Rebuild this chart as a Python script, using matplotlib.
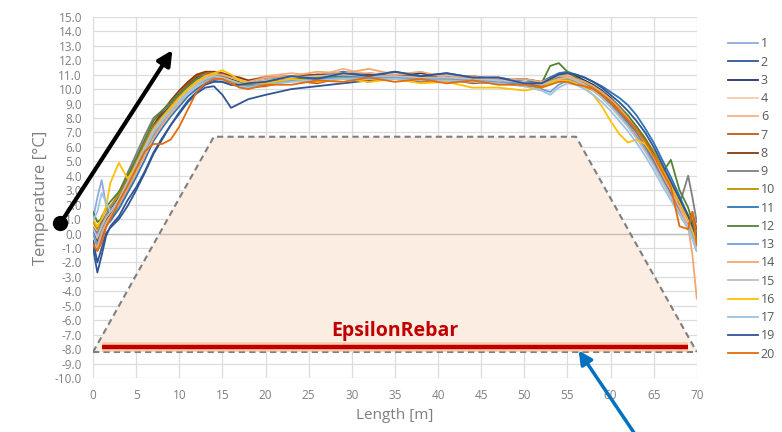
import matplotlib.pyplot as plt

plt.rcParams['font.family'] = ['Open Sans', 'DejaVu Sans']

# positions along the rebar [m]
length = [0, 0.5, 1, 1.5, 2, 3, 4, 5, 6, 7, 8, 9, 10, 11, 12, 13, 14, 15, 16, 17, 18,
          20, 23, 26, 29, 32, 35, 38, 41, 44, 47, 50, 52, 53, 54, 55, 56, 57, 58, 59,
          60, 61, 62, 63, 64, 65, 66, 67, 68, 69, 69.5, 70]

t1 = [1.0, 2.5, 3.7, 2.0, 0.8, 1.8, 3.0, 4.2, 5.6, 6.9, 7.8, 8.5, 9.2, 9.8, 10.3, 10.6, 10.8, 10.6, 10.3, 10.2, 10.3,
      10.3, 10.7, 10.5, 11.0, 10.7, 11.0, 10.6, 10.9, 10.5, 10.6, 10.2, 10.2, 10.5, 10.6, 10.7, 10.5, 10.3, 10.0, 9.5,
      9.0, 8.4, 7.6, 6.8, 5.9, 4.9, 3.7, 2.6, 1.5, 0.5, 0.2, -0.5]
t2 = [-1.0, -2.7, -1.5, -0.2, 0.5, 1.2, 2.3, 3.2, 4.3, 5.6, 6.6, 7.5, 8.3, 9.1, 9.7, 10.1, 10.2, 9.6, 8.7, 9.0, 9.3,
      9.6, 10.0, 10.2, 10.4, 10.6, 10.7, 10.7, 10.6, 10.5, 10.4, 10.3, 10.2, 10.4, 10.6, 10.7, 10.5, 10.3, 10.0, 9.6,
      9.1, 8.5, 7.8, 7.0, 6.1, 5.1, 3.9, 2.8, 1.6, 0.5, -0.3, -1.2]
t3 = [0.3, 0.0, 0.8, 1.2, 1.6, 2.5, 3.8, 5.0, 6.2, 7.4, 8.2, 8.9, 9.6, 10.3, 10.8, 11.0, 11.1, 11.0, 10.7, 10.5, 10.4,
      10.7, 10.6, 11.0, 10.8, 11.1, 10.9, 11.1, 10.8, 10.9, 10.6, 10.7, 10.5, 10.8, 11.0, 11.1, 10.9, 10.6, 10.3, 9.9,
      9.4, 8.8, 8.1, 7.4, 6.5, 5.5, 4.3, 3.2, 2.1, 1.0, 0.4, -0.4]
t4 = [0.6, 0.2, 0.6, 1.1, 1.4, 2.2, 3.4, 4.5, 5.7, 7.0, 7.8, 8.5, 9.2, 9.8, 10.4, 10.9, 11.1, 11.0, 10.8, 10.6, 10.5,
      10.7, 10.9, 11.0, 11.2, 11.1, 11.0, 10.9, 10.8, 10.8, 10.6, 10.5, 10.4, 10.7, 10.9, 10.9, 10.7, 10.4, 10.1, 9.7,
      9.2, 8.7, 8.0, 7.2, 6.3, 5.3, 4.1, 3.0, 2.0, 0.9, 0.1, -0.6]
t6 = [0.2, -0.5, 0.3, 1.0, 1.5, 2.3, 3.5, 4.6, 5.8, 7.1, 7.9, 8.7, 9.4, 10.0, 10.6, 11.0, 11.2, 11.1, 10.9, 10.7, 10.6,
      10.9, 11.1, 10.9, 11.4, 11.0, 11.2, 10.8, 11.0, 10.7, 10.8, 10.5, 10.5, 10.8, 10.9, 11.0, 10.7, 10.4, 10.0, 9.5,
      8.9, 8.3, 7.6, 6.9, 6.1, 5.2, 4.1, 3.1, 2.0, 0.9, 0.2, -0.6]
t7 = [-0.8, -1.2, -0.5, 0.5, 1.0, 2.0, 3.1, 4.3, 5.6, 6.9, 7.9, 8.8, 9.7, 10.4, 10.9, 11.1, 11.0, 10.8, 10.4, 10.2, 10.1,
      10.2, 10.6, 10.4, 10.8, 10.5, 10.8, 10.5, 10.7, 10.4, 10.5, 10.2, 10.2, 10.4, 10.6, 10.6, 10.4, 10.2, 9.9, 9.5,
      9.1, 8.5, 7.9, 7.1, 6.3, 5.3, 4.2, 3.0, 1.4, 0.5, 1.5, 0.3]
t8 = [0.0, -0.6, 0.2, 0.9, 1.4, 2.4, 3.7, 4.9, 6.2, 7.5, 8.4, 9.2, 9.9, 10.5, 11.0, 11.2, 11.2, 11.1, 10.9, 10.8, 10.6,
      10.8, 10.9, 11.0, 11.0, 11.0, 10.9, 10.9, 10.8, 10.7, 10.6, 10.5, 10.4, 10.6, 10.8, 10.8, 10.6, 10.4, 10.1, 9.7,
      9.2, 8.6, 7.9, 7.2, 6.4, 5.5, 4.4, 3.3, 2.2, 1.0, 0.3, -0.5]
t9 = [0.4, 0.0, 0.7, 1.3, 1.8, 2.8, 4.2, 5.5, 6.8, 8.0, 8.5, 9.0, 9.6, 10.2, 10.7, 11.0, 11.0, 10.9, 10.6, 10.4, 10.3,
      10.5, 10.7, 10.8, 10.8, 10.8, 10.8, 10.7, 10.7, 10.6, 10.5, 10.4, 10.3, 10.6, 10.8, 10.8, 10.6, 10.4, 10.0, 9.5,
      9.0, 8.4, 7.7, 7.0, 6.1, 5.1, 3.9, 2.6, 2.0, 4.0, 2.5, 0.8]
t10 = [0.8, 0.3, 1.2, 1.6, 1.9, 2.7, 3.9, 5.0, 6.2, 7.4, 8.1, 8.8, 9.4, 10.0, 10.5, 10.8, 10.9, 10.7, 10.5, 10.3, 10.3,
       10.5, 10.6, 10.7, 10.8, 10.8, 10.8, 10.7, 10.7, 10.6, 10.5, 10.4, 10.3, 10.6, 10.7, 10.7, 10.6, 10.4, 10.1, 9.7,
       9.3, 8.8, 8.1, 7.4, 6.6, 5.7, 4.6, 3.4, 2.4, 1.3, 0.6, -0.2]
t11 = [0.2, -1.0, -0.2, 0.5, 0.9, 1.7, 2.8, 3.9, 5.1, 6.4, 7.3, 8.1, 8.8, 9.5, 10.0, 10.4, 10.6, 10.5, 10.3, 10.3, 10.4,
       10.6, 10.9, 10.8, 11.2, 10.9, 11.2, 10.9, 11.1, 10.8, 10.8, 10.5, 10.5, 10.8, 11.1, 11.2, 11.0, 10.8, 10.5, 10.2,
       9.8, 9.4, 8.9, 8.2, 7.3, 6.3, 5.1, 3.9, 2.6, 1.2, 0.4, -0.4]
t12 = [1.5, 0.8, 1.0, 1.8, 2.2, 2.9, 4.0, 5.2, 6.5, 7.8, 8.5, 9.1, 9.7, 10.2, 10.7, 10.9, 11.0, 10.8, 10.6, 10.4, 10.3,
       10.5, 10.7, 10.8, 10.9, 10.9, 10.8, 10.7, 10.7, 10.6, 10.5, 10.3, 10.4, 11.6, 11.8, 11.2, 10.8, 10.5, 10.2, 9.8,
       9.3, 8.8, 8.2, 7.4, 6.6, 5.5, 4.2, 5.1, 3.0, 1.8, 0.8, 0.0]
t13 = [0.0, -0.8, 0.2, 0.8, 1.2, 2.1, 3.2, 4.3, 5.5, 6.7, 7.6, 8.4, 9.1, 9.7, 10.2, 10.6, 10.8, 10.7, 10.4, 10.2, 10.2,
       10.4, 10.6, 10.7, 10.8, 10.8, 10.8, 10.7, 10.7, 10.6, 10.5, 10.4, 10.0, 9.8, 10.3, 10.6, 10.5, 10.3, 9.9, 9.4,
       8.8, 8.2, 7.5, 6.7, 5.8, 4.8, 3.7, 2.6, 1.5, 0.6, -0.1, -0.9]
t14 = [-0.5, -1.0, 0.0, 0.7, 1.2, 2.0, 3.1, 4.2, 5.4, 6.6, 7.5, 8.3, 9.0, 9.7, 10.3, 10.8, 11.0, 11.0, 10.8, 10.6, 10.5,
       10.8, 10.9, 11.2, 11.1, 11.4, 11.0, 11.2, 10.8, 10.9, 10.6, 10.7, 10.5, 10.7, 10.9, 10.9, 10.7, 10.5, 10.2, 9.8,
       9.3, 8.7, 8.0, 7.2, 6.3, 5.3, 4.1, 3.0, 1.8, 0.5, -1.5, -4.5]
t15 = [0.3, -0.2, 0.5, 1.1, 1.5, 2.4, 3.6, 4.8, 6.0, 7.2, 8.0, 8.7, 9.3, 9.9, 10.4, 10.7, 10.9, 10.8, 10.6, 10.4, 10.4,
       10.6, 10.8, 10.9, 11.0, 10.9, 10.9, 10.8, 10.8, 10.7, 10.6, 10.5, 10.3, 10.5, 10.7, 10.8, 10.6, 10.3, 9.9, 9.4,
       8.8, 8.1, 7.4, 6.6, 5.7, 4.7, 3.6, 2.5, 1.4, 0.4, -0.3, -1.0]
t16 = [1.0, 0.5, 1.0, 1.8, 3.5, 4.9, 3.8, 4.6, 5.8, 7.0, 7.9, 8.7, 9.4, 10.0, 10.5, 10.9, 11.1, 11.3, 11.0, 10.6, 10.4,
       10.4, 10.7, 10.5, 10.7, 10.5, 10.7, 10.4, 10.5, 10.1, 10.1, 9.9, 10.1, 10.4, 10.6, 10.6, 10.4, 10.1, 9.6, 8.8,
       7.8, 6.9, 6.3, 6.5, 6.2, 5.4, 4.4, 3.3, 2.2, 1.0, 0.2, -0.6]
t17 = [0.9, 1.5, 2.8, 2.2, 1.5, 2.2, 3.4, 4.6, 5.8, 7.0, 7.8, 8.5, 9.1, 9.7, 10.2, 10.5, 10.7, 10.6, 10.4, 10.2, 10.1,
       10.3, 10.5, 10.6, 10.7, 10.7, 10.7, 10.6, 10.6, 10.5, 10.4, 10.2, 9.9, 9.6, 10.1, 10.4, 10.3, 10.0, 9.6, 9.1,
       8.5, 7.8, 7.1, 6.3, 5.4, 4.4, 3.3, 2.3, 1.3, 0.3, -0.4, -1.2]
t19 = [-0.5, -2.0, -1.0, 0.0, 0.4, 1.0, 1.9, 3.0, 4.2, 5.5, 6.5, 7.5, 8.4, 9.2, 9.8, 10.3, 10.5, 10.5, 10.3, 10.3, 10.4,
       10.5, 10.9, 10.7, 11.1, 10.9, 11.2, 10.9, 11.1, 10.8, 10.8, 10.4, 10.4, 10.7, 11.0, 11.1, 11.0, 10.8, 10.5, 10.1,
       9.6, 9.1, 8.5, 7.8, 7.0, 6.0, 4.8, 3.6, 2.4, 1.2, 0.5, -0.3]
t20 = [-0.8, -1.2, -0.6, 0.4, 1.0, 2.2, 3.3, 4.5, 5.7, 6.2, 6.2, 6.5, 7.4, 8.6, 9.8, 10.4, 10.7, 10.7, 10.4, 10.1, 10.0,
       10.3, 10.3, 10.6, 10.5, 10.8, 10.5, 10.7, 10.4, 10.6, 10.3, 10.3, 10.1, 10.3, 10.5, 10.5, 10.3, 10.2, 10.0, 9.6,
       9.1, 8.5, 7.9, 7.2, 6.4, 5.4, 4.3, 3.2, 0.5, 0.3, 1.5, -0.8]

labels = ['1', '2', '3', '4', '6', '7', '8', '9', '10', '11', '12', '13', '14', '15', '16', '17', '19', '20']
series = [t1, t2, t3, t4, t6, t7, t8, t9, t10, t11, t12, t13, t14, t15, t16, t17, t19, t20]
colors = ['#8faadc', '#2f5597', '#203864', '#f8cbad', '#f4b183', '#c55a11', '#843c0c', '#7f7f7f', '#bf9000',
          '#2e75b6', '#548235', '#6f9fd8', '#f0a870', '#bfbfbf', '#ffc000', '#9dc3e6', '#2f5597', '#e46c0a']

# embankment outline and rebar
trap_x = [0, 14, 56, 70]
trap_y = [-8.2, 6.7, 6.7, -8.2]
rebar_x = [1, 69]
rebar_y = [-7.85, -7.85]

fig = plt.figure(figsize=(7.82, 4.32), dpi=100)
ax = fig.add_axes([0.119, 0.125, 0.772, 0.836])

ax.fill(trap_x, trap_y, color='#fcede3', lw=0, zorder=1)
ax.plot(trap_x, trap_y, color='#7f7f7f', ls=(0, (3, 2)), lw=1.5, zorder=2)
ax.plot([trap_x[0], trap_x[-1]], [trap_y[0], trap_y[-1]], color='#7f7f7f', ls=(0, (3, 2)), lw=1.5, zorder=2)
ax.plot(rebar_x, rebar_y, color='#f8b080', lw=7, alpha=0.5, solid_capstyle='butt', zorder=3)
ax.plot(rebar_x, rebar_y, color='#c00000', lw=3.2, solid_capstyle='butt', zorder=3)
ax.text(35, -6.75, 'EpsilonRebar', color='#c00000', fontsize=14, fontweight='bold', ha='center', va='center')

for s, c, lab in zip(series, colors, labels):
    ax.plot(length, s, color=c, lw=1.3, label=lab, zorder=4)

ax.set_xlim(0, 70)
ax.set_ylim(-10, 15)
ax.set_xticks(range(0, 71, 5))
ax.set_yticks(range(-10, 16))
ax.set_yticklabels(['%.1f' % v for v in range(-10, 16)])
ax.tick_params(length=0, labelsize=8.5, colors='#7f7f7f', pad=8)
for sp in ax.spines.values():
    sp.set_visible(False)
ax.grid(True, color='#dcdcdc', lw=0.9)
ax.axhline(0, color='#bfbfbf', lw=1, zorder=1)
ax.set_axisbelow(True)
ax.set_xlabel('Length [m]', fontsize=11, color='#7f7f7f')
ax.set_ylabel('Temperature [°C]', fontsize=12, color='#7f7f7f')

fig.legend(loc='upper left', bbox_to_anchor=(0.925, 0.925), frameon=False, fontsize=9,
           labelspacing=0.42, handlelength=2.4, handletextpad=0.2, borderaxespad=0,
           labelcolor='#595959')

# annotation arrows
ax.annotate('', xy=(9.2, 12.7), xytext=(-3.8, 0.7), annotation_clip=False,
            arrowprops=dict(arrowstyle='-|>', color='black', lw=3, mutation_scale=22, shrinkA=0, shrinkB=0))
ax.plot([-3.8], [0.7], 'o', color='black', ms=10, clip_on=False, zorder=5)
ax.annotate('', xy=(56.3, -8.1), xytext=(63.3, -14.3), annotation_clip=False,
            arrowprops=dict(arrowstyle='-|>', color='#0070c0', lw=2.5, mutation_scale=20, shrinkA=0, shrinkB=0))

fig.savefig('out.png', dpi=100)
